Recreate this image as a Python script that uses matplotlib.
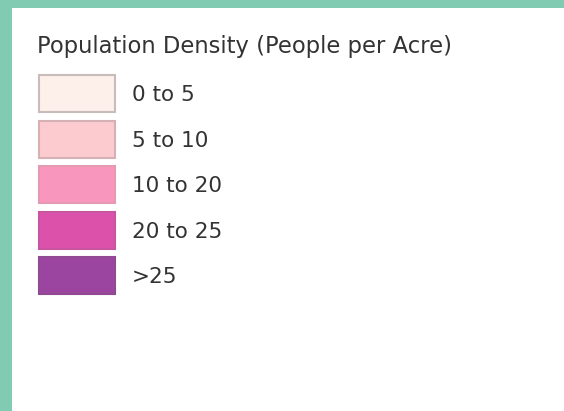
import matplotlib
matplotlib.use('Agg')
import matplotlib.pyplot as plt
from matplotlib.patches import Rectangle

# legend content
title = 'Population Density (People per Acre)'
labels = ['0 to 5', '5 to 10', '10 to 20', '20 to 25', '>25']
colors = ['#fdefea', '#fccbd0', '#f996bd', '#dc52ab', '#9c45a0']
edges = ['#c9bcbb', '#d5b0b4', '#e59ab3', '#c8559f', '#8f4a93']

plt.rcParams['font.family'] = ['DejaVu Sans']

fig = plt.figure(figsize=(5.64, 4.11), dpi=100)
ax = fig.add_axes([0, 0, 1, 1])
ax.set_xlim(0, 564)
ax.set_ylim(411, 0)
ax.axis('off')

# teal frame on top and left
ax.add_patch(Rectangle((0, 0), 564, 8.5, color='#80cbb2', lw=0))
ax.add_patch(Rectangle((0, 0), 11.5, 411, color='#80cbb2', lw=0))

ax.text(37, 46, title, fontsize=16.3, color='#333333', va='center', ha='left')

for i, (lab, c, ec) in enumerate(zip(labels, colors, edges)):
    y = 75 + i * 45.5
    ax.add_patch(Rectangle((39, y), 76, 37, facecolor=c, edgecolor=ec, lw=1.5))
    ax.text(132, y + 20, lab, fontsize=15.5, color='#333333', va='center', ha='left')

fig.savefig('out.png', dpi=100)
